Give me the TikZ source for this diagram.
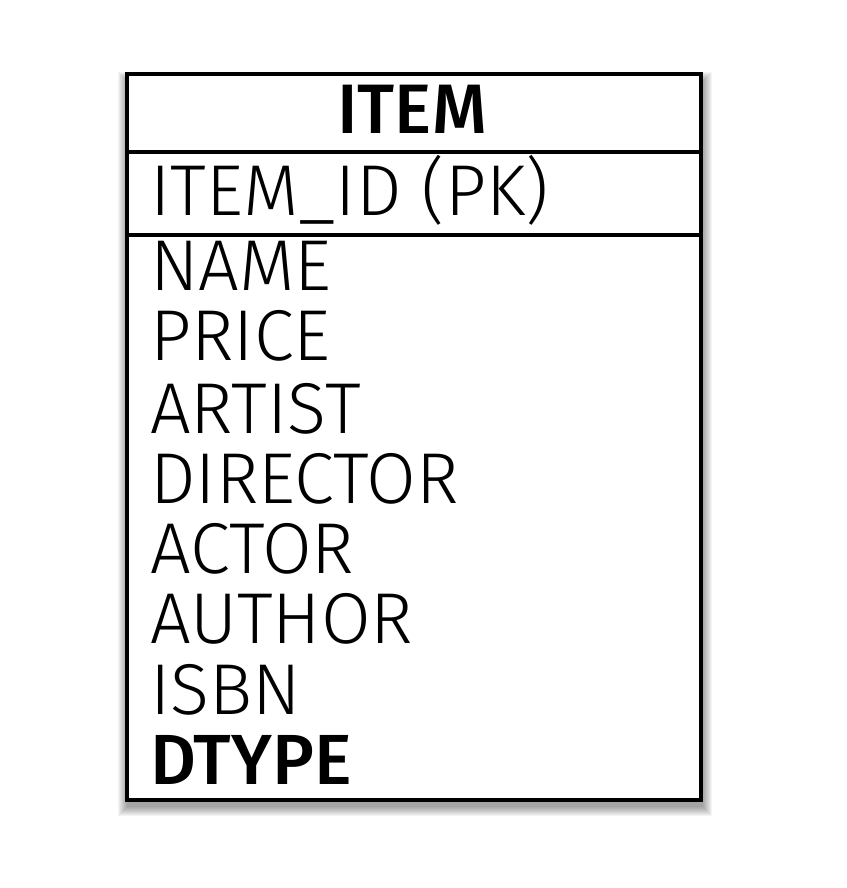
\documentclass[tikz,border=0pt]{standalone}
\usepackage{fontspec}
\setmainfont{Fira Sans Light}[BoldFont={Fira Sans Medium}]
\begin{document}
\begin{tikzpicture}[x=1pt,y=-1pt,
  field/.style={anchor=base west,inner sep=0pt,font=\fontsize{72}{72}\selectfont},
  title/.style={anchor=base,inner sep=0pt,font=\fontsize{70}{70}\selectfont\bfseries}]
\useasboundingbox (0,0) rectangle (846,888);
\foreach \i in {1,...,10}{
  \fill[black,opacity=0.045] (125+3-\i,72+10-\i) rectangle (699+3+\i,798+8+\i);
}
\fill[white] (125,72) rectangle (699,798);
\node[draw,line width=4pt,minimum width=574pt,minimum height=726pt,inner sep=0pt,anchor=north west] (box) at (125,72) {};
\coordinate (l1) at (125,152);
\coordinate (r1) at (699,152);
\coordinate (l2) at (125,235);
\coordinate (r2) at (699,235);
\draw[line width=4pt] (l1) -- (r1);
\draw[line width=4pt] (l2) -- (r2);
\node[title] (t) at (412,133) {ITEM};
\node[field] (pk) at (150,215) {ITEM\_ID (PK)};
\node[field] (f1) at (150,290) {NAME};
\node[field] (f2) at (150,360) {PRICE};
\node[field] (f3) at (150,433) {ARTIST};
\node[field] (f4) at (150,503) {DIRECTOR};
\node[field] (f5) at (150,573) {ACTOR};
\node[field] (f6) at (150,643) {AUTHOR};
\node[field] (f7) at (150,714) {ISBN};
\node[field,font=\fontsize{71}{71}\selectfont\bfseries] (f8) at (150,784) {DTYPE};
\end{tikzpicture}
\end{document}
